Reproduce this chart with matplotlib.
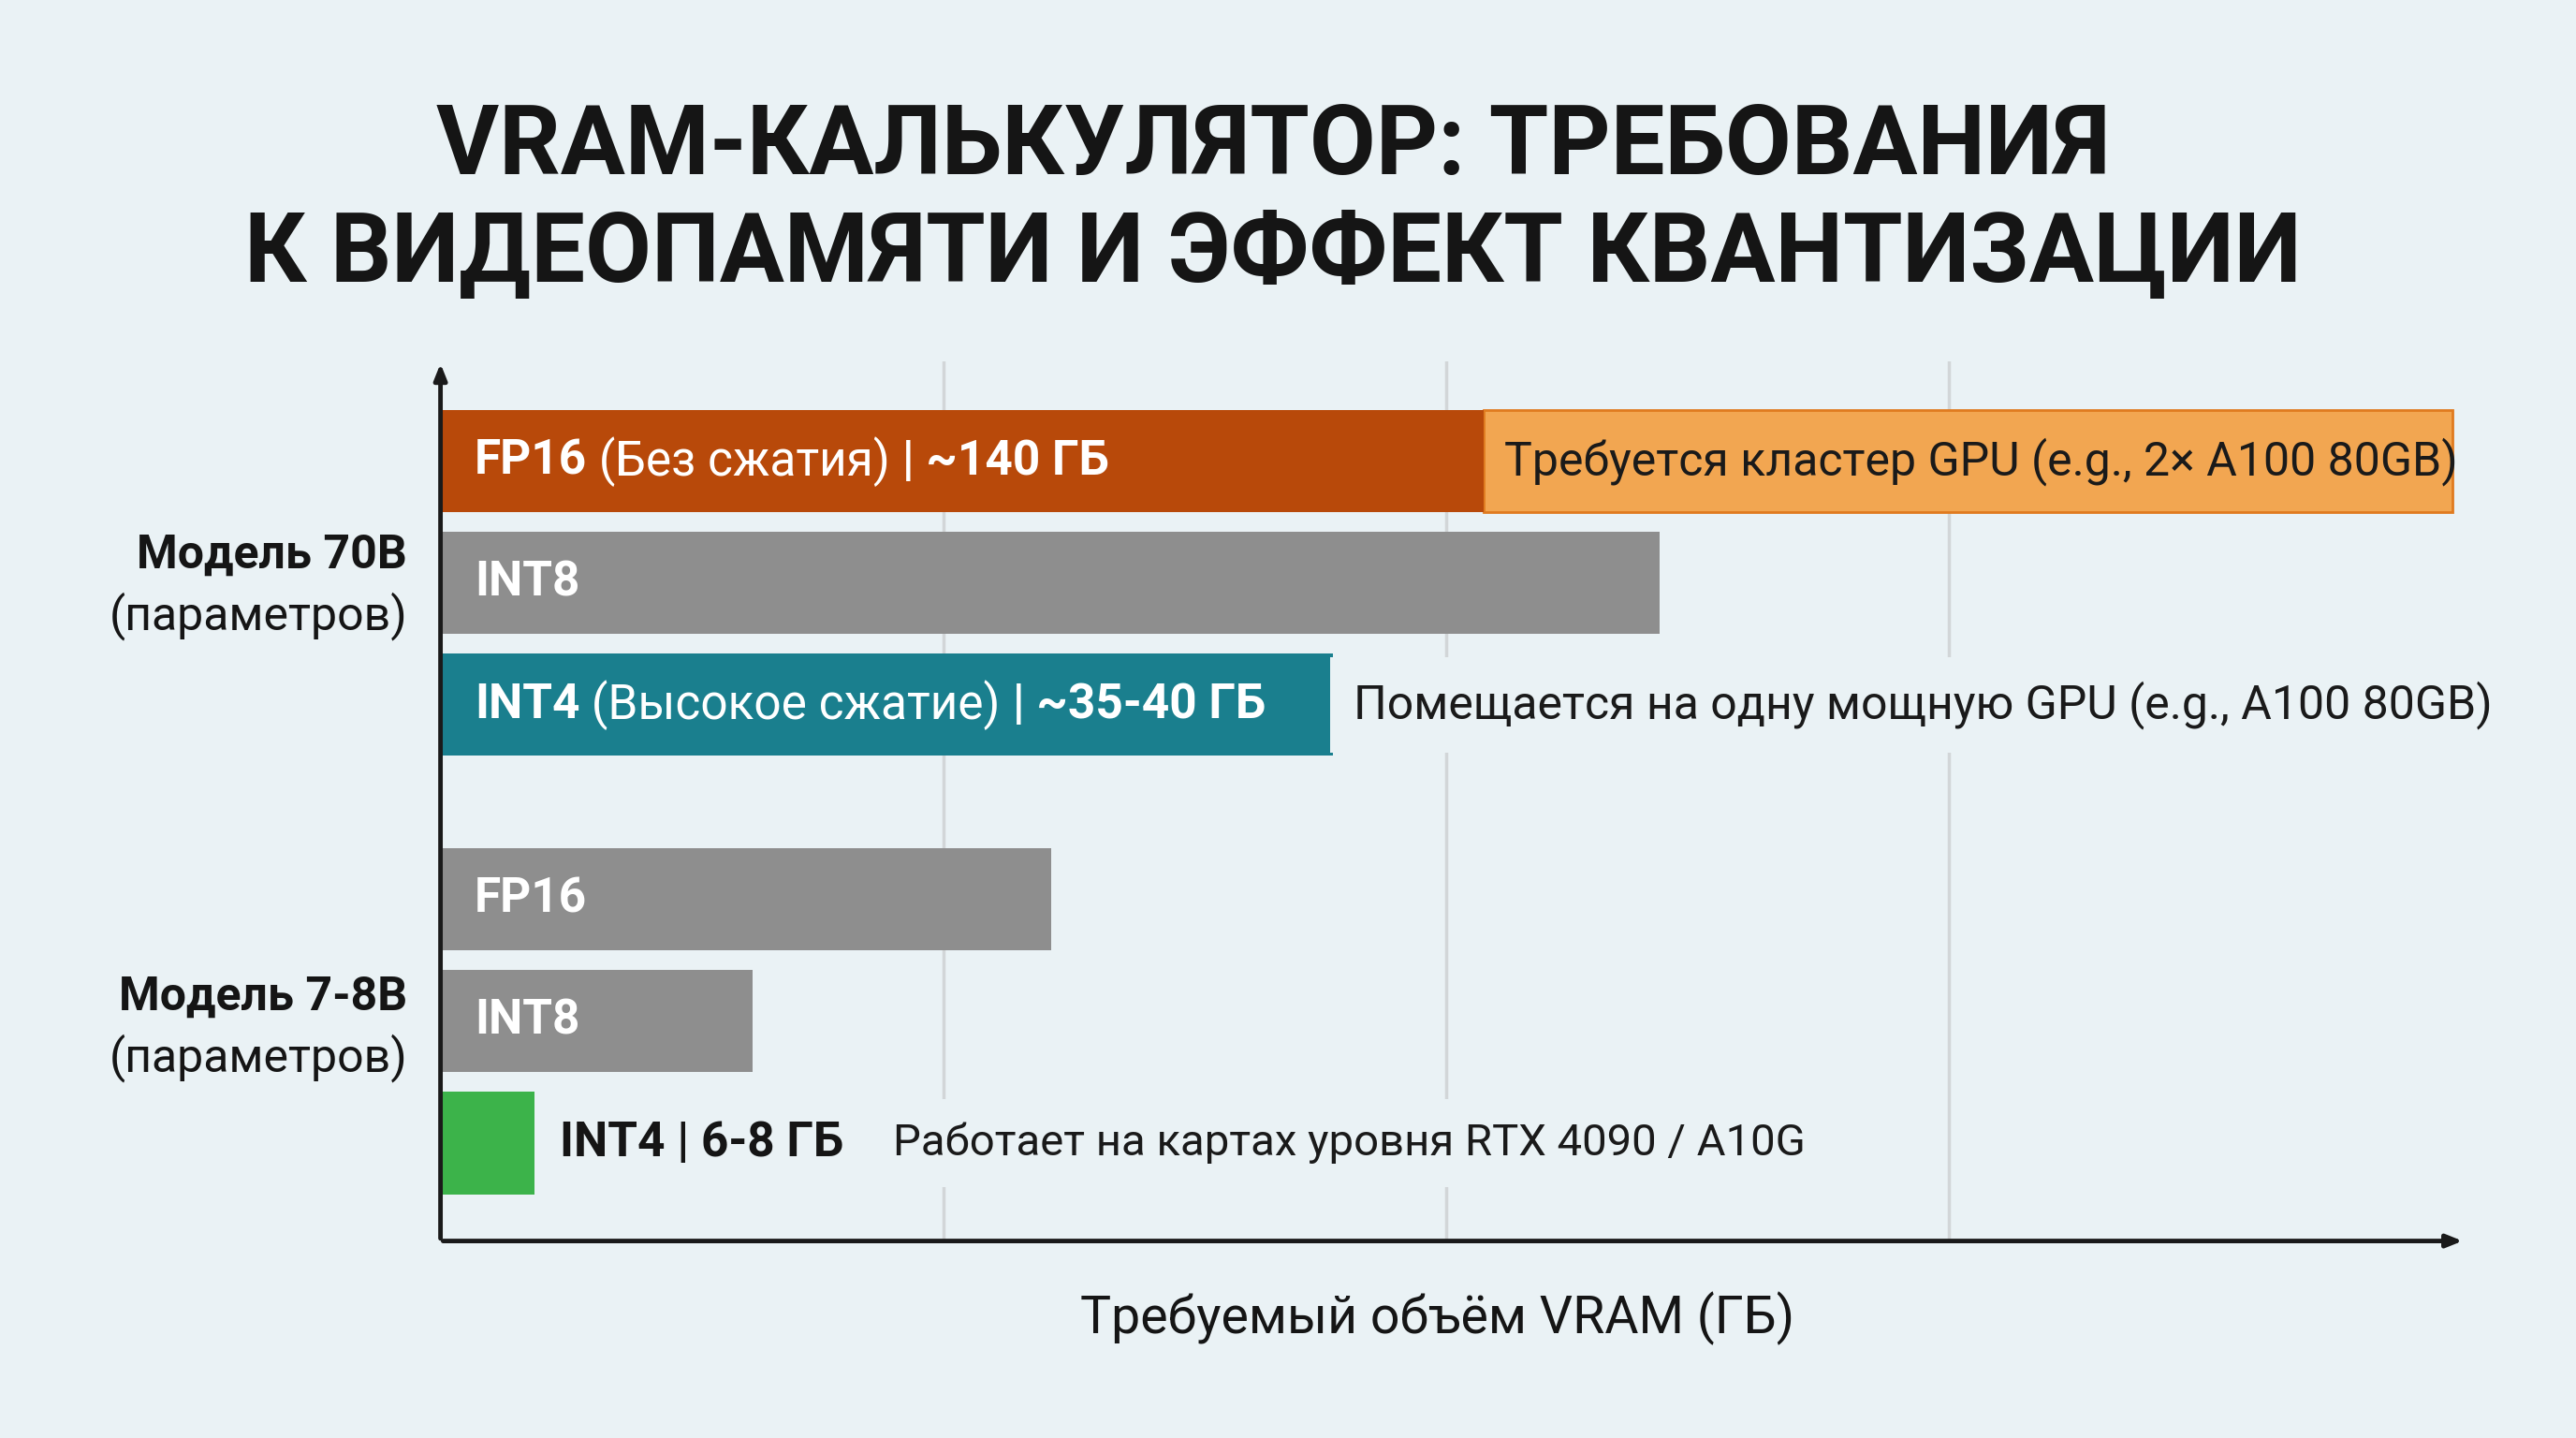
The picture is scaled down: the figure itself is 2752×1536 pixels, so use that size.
import matplotlib
matplotlib.use("Agg")
import matplotlib.pyplot as plt

plt.rcParams['font.family'] = ['Roboto', 'DejaVu Sans']

title_lines = ["VRAM-КАЛЬКУЛЯТОР: ТРЕБОВАНИЯ", "К ВИДЕОПАМЯТИ И ЭФФЕКТ КВАНТИЗАЦИИ"]
groups = [("Модель 70B", "(параметров)"), ("Модель 7-8B", "(параметров)")]
# bar lengths (grid lines at 40, 80, 120)
bars_70 = [83, 97, 71]
bars_7 = [48.6, 24.8, 7.5]
cluster_end = 160
labels_70 = [[("FP16", "bold"), (" (Без сжатия)", "normal"), (" | ~140 ГБ", "bold")],
             [("INT8", "bold")],
             [("INT4", "bold"), (" (Высокое сжатие)", "normal"), (" | ~35-40 ГБ", "bold")]]
labels_7 = [[("FP16", "bold")], [("INT8", "bold")], [("INT4 | 6-8 ГБ", "bold")]]
note_cluster = "Требуется кластер GPU (e.g., 2× A100 80GB)"
note_70_int4 = "Помещается на одну мощную GPU (e.g., A100 80GB)"
note_7_int4 = "Работает на картах уровня RTX 4090 / A10G"
xlabel = "Требуемый объём VRAM (ГБ)"

BG = "#eaf2f5"
fig = plt.figure(figsize=(27.52, 15.36), dpi=100, facecolor=BG)
ax = fig.add_axes([0.171, 0.137, 0.786, 0.612])
ax.set_facecolor(BG)
xmax = 40 * (1500 - 268) / 306
ax.set_xlim(0, xmax)
ax.set_ylim(6.405, -0.824)

ys70 = [0, 1, 2]
ys7 = [3.6, 4.6, 5.6]
h = 0.84
for gx in [40, 80, 120]:
    ax.axvline(gx, color="#d2d6d8", lw=2.5, zorder=0)

c70 = ["#b8490a", "#8e8e8e", "#1a7f8e"]
c7 = ["#8e8e8e", "#8e8e8e", "#3cb34a"]
ax.barh(ys70[0], cluster_end - bars_70[0], left=bars_70[0], height=h, color="#f2a651",
        edgecolor="#e07b1f", lw=2, zorder=2)
ax.barh(ys70, bars_70, height=h, color=c70, zorder=3)
ax.barh(ys7, bars_7, height=h, color=c7, zorder=3)

fs = 37
def chain(x, y, parts, color):
    prev = ax.text(x, y, parts[0][0], color=color, fontsize=fs, fontweight=parts[0][1],
                   va="center", ha="left", zorder=5)
    for s, w in parts[1:]:
        prev = ax.annotate(s, xy=(1, 0.5), xycoords=prev, color=color, fontsize=fs,
                           fontweight=w, va="center", ha="left", zorder=5)
    return prev

for y, parts in zip(ys70, labels_70):
    chain(2.7, y, parts, "white")
for y, parts in zip(ys7[:2], labels_7[:2]):
    chain(2.7, y, parts, "white")
chain(bars_7[2] + 2.0, ys7[2], labels_7[2], "#151515")

ax.text(bars_70[0] + 1.6, ys70[0], note_cluster, fontsize=fs - 1, color="#1a1a1a",
        va="center", ha="left", zorder=5)
ax.text(bars_70[2] + 1.6, ys70[2], note_70_int4, fontsize=fs - 1, color="#1a1a1a",
        va="center", ha="left", zorder=5,
        bbox=dict(facecolor=BG, edgecolor="none", pad=18))
ax.text(bars_7[2] + 28.5, ys7[2], note_7_int4, fontsize=fs - 3, color="#1a1a1a",
        va="center", ha="left", zorder=5,
        bbox=dict(facecolor=BG, edgecolor="none", pad=18))

for s in ax.spines.values():
    s.set_visible(False)
ax.set_xticks([]); ax.set_yticks([])
# axes arrows
ax.annotate("", xy=(xmax, 6.405), xytext=(0, 6.405),
            arrowprops=dict(arrowstyle="-|>,head_length=1.0,head_width=0.4", color="#1a1a1a", lw=3.5),
            annotation_clip=False)
ax.annotate("", xy=(0, -0.824), xytext=(0, 6.405),
            arrowprops=dict(arrowstyle="-|>,head_length=1.0,head_width=0.4", color="#1a1a1a", lw=3.5),
            annotation_clip=False)

for (a, b), y in zip(groups, [338, 607]):
    fig.text(248 / 1568, 1 - y / 875, a, fontsize=fs - 1, fontweight="bold", ha="right",
             va="center", color="#151515")
    fig.text(248 / 1568, 1 - (y + 37) / 875, b, fontsize=fs - 1, ha="right",
             va="center", color="#151515")

fig.text(875 / 1568, 1 - 802 / 875, xlabel, fontsize=40, ha="center", va="center", color="#151515")
fig.text(775 / 1568, 1 - 90 / 875, title_lines[0], fontsize=74, fontweight="bold",
         ha="center", va="center", color="#151515")
fig.text(775 / 1568, 1 - 155 / 875, title_lines[1], fontsize=74, fontweight="bold",
         ha="center", va="center", color="#151515")

fig.savefig("out.png", dpi=100, facecolor=BG)
